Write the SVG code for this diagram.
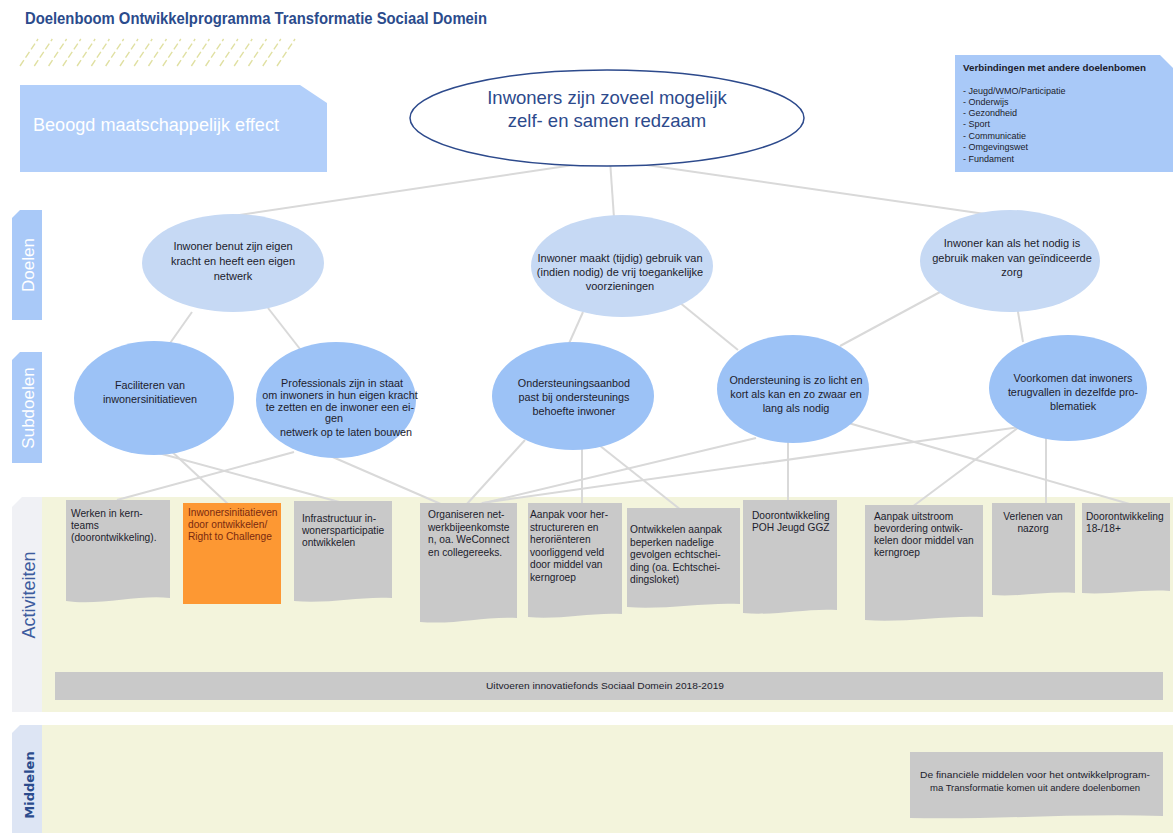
<svg xmlns="http://www.w3.org/2000/svg" width="1173" height="833" viewBox="0 0 1173 833">
<style>
.t{font-family:"Liberation Sans",Arial,sans-serif;fill:#1c1c2c}
.el{font-size:11px;text-anchor:middle}
.sl{font-size:10.8px;text-anchor:middle}
.at{font-size:10.2px}
.doel{fill:#c6d9f4}
.sub{fill:#9cc2f6}
.box{fill:#c9c9c9}
.con line{stroke:#d9d9d9;stroke-width:2}
.tab{font-family:"Liberation Sans",Arial,sans-serif;font-size:17px;fill:#fff;text-anchor:middle}
.hat line{stroke:#e0e0a2;stroke-width:1.4;stroke-dasharray:7 3}
.lst{font-family:"Liberation Sans",Arial,sans-serif;font-size:9px;fill:#1c1c2c}
</style>
<rect width="1173" height="833" fill="#fff"/>
<text x="25" y="24" font-family="Liberation Sans,Arial,sans-serif" font-size="16" font-weight="bold" fill="#2b4b8c" textLength="462" lengthAdjust="spacingAndGlyphs">Doelenboom Ontwikkelprogramma Transformatie Sociaal Domein</text>
<g class="hat">
<line x1="20" y1="66" x2="38" y2="39"/><line x1="34.3" y1="66" x2="52.3" y2="39"/><line x1="48.6" y1="66" x2="66.6" y2="39"/><line x1="62.8" y1="66" x2="80.8" y2="39"/><line x1="77.1" y1="66" x2="95.1" y2="39"/><line x1="91.4" y1="66" x2="109.4" y2="39"/><line x1="105.7" y1="66" x2="123.7" y2="39"/><line x1="120" y1="66" x2="138" y2="39"/><line x1="134.2" y1="66" x2="152.2" y2="39"/><line x1="148.5" y1="66" x2="166.5" y2="39"/><line x1="162.8" y1="66" x2="180.8" y2="39"/><line x1="177.1" y1="66" x2="195.1" y2="39"/><line x1="191.4" y1="66" x2="209.4" y2="39"/><line x1="205.6" y1="66" x2="223.6" y2="39"/><line x1="219.9" y1="66" x2="237.9" y2="39"/><line x1="234.2" y1="66" x2="252.2" y2="39"/><line x1="248.5" y1="66" x2="266.5" y2="39"/><line x1="262.8" y1="66" x2="280.8" y2="39"/><line x1="277" y1="66" x2="295" y2="39"/>
</g>
<g id="beoogd">
<path d="M20,85 H300 L327,103 V172 H20 Z" fill="#b2cffa"/>
<text x="33" y="131" font-family="Liberation Sans,Arial,sans-serif" font-size="18" fill="#fff" textLength="246" lengthAdjust="spacingAndGlyphs">Beoogd maatschappelijk effect</text>
</g>
<g id="verbindingen">
<path d="M955,55 H1160 L1173,68 V172 H955 Z" fill="#a9c9f8"/>
<text x="963" y="71" font-family="Liberation Sans,Arial,sans-serif" font-size="9.6" font-weight="bold" fill="#1c1c2c" textLength="183" lengthAdjust="spacingAndGlyphs">Verbindingen met andere doelenbomen</text>
<text class="lst" x="963" y="94">- Jeugd/WMO/Participatie</text>
<text class="lst" x="963" y="105">- Onderwijs</text>
<text class="lst" x="963" y="116">- Gezondheid</text>
<text class="lst" x="963" y="127">- Sport</text>
<text class="lst" x="963" y="138.5">- Communicatie</text>
<text class="lst" x="963" y="150">- Omgevingswet</text>
<text class="lst" x="963" y="161.5">- Fundament</text>
</g>
<g id="tab-doelen">
<path d="M20,210 H42 V320 H12 V218 Z" fill="#a9c9f8"/>
<text class="tab" transform="translate(34,265) rotate(-90)">Doelen</text>
</g>
<g id="tab-subdoelen">
<path d="M20,352 H42 V463 H12 V360 Z" fill="#a9c9f8"/>
<text class="tab" transform="translate(34,408) rotate(-90)">Subdoelen</text>
</g>
<rect x="42" y="497" width="1131" height="215" fill="#f3f4dc"/>
<rect x="42" y="725" width="1131" height="108" fill="#f3f4dc"/>
<g id="tab-activiteiten">
<path d="M22,497 H42 V712 H12 V507 Z" fill="#f0f1f5"/>
<text class="tab" style="fill:#3d5c9e;font-size:18px" transform="translate(35,595) rotate(-90)">Activiteiten</text>
</g>
<g id="tab-middelen">
<path d="M20,725 H42 V833 H12 V733 Z" fill="#dde5f4"/>
<text transform="translate(34,785) rotate(-90)" font-family="DejaVu Sans,Verdana,sans-serif" font-size="13" font-weight="bold" fill="#2b4b8c" text-anchor="middle">Middelen</text>
</g>
<g id="connectors" class="con">
<line x1="607" y1="160" x2="233" y2="216"/>
<line x1="610" y1="160" x2="614" y2="218"/>
<line x1="612" y1="160" x2="985" y2="214"/>
<line x1="192" y1="312" x2="168" y2="346"/>
<line x1="268" y1="308" x2="300" y2="349"/>
<line x1="583" y1="312" x2="567" y2="348"/>
<line x1="679" y1="302" x2="738" y2="350"/>
<line x1="940" y1="292" x2="840" y2="346"/>
<line x1="1017" y1="306" x2="1023" y2="342"/>
<line x1="294" y1="452" x2="117" y2="500"/>
<line x1="168" y1="448" x2="229" y2="505"/>
<line x1="140" y1="448" x2="343" y2="503"/>
<line x1="328" y1="455" x2="443" y2="505"/>
<line x1="525" y1="440" x2="466" y2="505"/>
<line x1="756" y1="438" x2="480" y2="504"/>
<line x1="1019" y1="427" x2="482" y2="503"/>
<line x1="582" y1="445" x2="582" y2="505"/>
<line x1="599" y1="445" x2="681" y2="510"/>
<line x1="788" y1="440" x2="788" y2="502"/>
<line x1="845" y1="422" x2="1133" y2="505"/>
<line x1="1019" y1="427" x2="912" y2="507"/>
<line x1="1046" y1="437" x2="1046" y2="505"/>
</g>
<g id="hoofddoel">
<ellipse cx="607" cy="118" rx="197" ry="48" fill="#fff" stroke="#2d4a8c" stroke-width="1.5"/>
<text x="607" y="104" font-family="Liberation Sans,Arial,sans-serif" font-size="18.5" fill="#2d4a8c" text-anchor="middle">Inwoners zijn zoveel mogelijk</text>
<text x="607" y="127" font-family="Liberation Sans,Arial,sans-serif" font-size="18.5" fill="#2d4a8c" text-anchor="middle">zelf- en samen redzaam</text>
</g>
<g id="doel1">
<ellipse class="doel" cx="233" cy="263" rx="91" ry="49"/>
<text class="t el" x="233" y="250">Inwoner benut zijn eigen</text>
<text class="t el" x="233" y="265">kracht en heeft een eigen</text>
<text class="t el" x="233" y="280">netwerk</text>
</g>
<g id="doel2">
<ellipse class="doel" cx="622" cy="266" rx="91" ry="51"/>
<text class="t el" x="620" y="262">Inwoner maakt (tijdig) gebruik van</text>
<text class="t el" x="620" y="276">(indien nodig) de vrij toegankelijke</text>
<text class="t el" x="620" y="290">voorzieningen</text>
</g>
<g id="doel3">
<ellipse class="doel" cx="1010" cy="261" rx="90" ry="51"/>
<text class="t el" x="1012" y="247">Inwoner kan als het nodig is</text>
<text class="t el" x="1012" y="261.5">gebruik maken van geïndiceerde</text>
<text class="t el" x="1012" y="276">zorg</text>
</g>
<g id="sub1">
<ellipse class="sub" cx="154" cy="398" rx="80" ry="57"/>
<text class="t sl" x="150" y="389">Faciliteren van</text>
<text class="t sl" x="150" y="403">inwonersinitiatieven</text>
</g>
<g id="sub2">
<ellipse class="sub" cx="336" cy="400" rx="80" ry="58"/>
<text class="t sl" x="342" y="387">Professionals zijn in staat</text>
<text class="t sl" x="340" y="399">om inwoners in hun eigen kracht</text>
<text class="t sl" x="340" y="411">te zetten en de inwoner een ei-</text>
<text class="t sl" x="334" y="422">gen</text>
<text class="t sl" x="346" y="436">netwerk op te laten bouwen</text>
</g>
<g id="sub3">
<ellipse class="sub" cx="573" cy="396" rx="81" ry="54"/>
<text class="t sl" x="574" y="387">Ondersteuningsaanbod</text>
<text class="t sl" x="574" y="401">past bij ondersteunings</text>
<text class="t sl" x="574" y="415">behoefte inwoner</text>
</g>
<g id="sub4">
<ellipse class="sub" cx="793" cy="389" rx="76" ry="54"/>
<text class="t sl" x="796" y="384">Ondersteuning is zo licht en</text>
<text class="t sl" x="796" y="398">kort als kan en zo zwaar en</text>
<text class="t sl" x="796" y="412">lang als nodig</text>
</g>
<g id="sub5">
<ellipse class="sub" cx="1068" cy="388" rx="79" ry="53"/>
<text class="t sl" x="1073" y="382">Voorkomen dat inwoners</text>
<text class="t sl" x="1073" y="396">terugvallen in dezelfde pro-</text>
<text class="t sl" x="1073" y="410">blematiek</text>
</g>
<g id="act1">
<path class="box" d="M66,500 H170 V598 C140,594 100,606 66,601 Z"/>
<text class="t at" x="71" y="517">Werken in kern-</text>
<text class="t at" x="71" y="529">teams</text>
<text class="t at" x="71" y="541">(doorontwikkeling).</text>
</g>
<g id="act2">
<rect x="183" y="503" width="98" height="101" fill="#fd9833"/>
<text class="t at" style="fill:#7a2a10" x="188" y="516">Inwonersinitiatieven</text>
<text class="t at" style="fill:#7a2a10" x="188" y="528">door ontwikkelen/</text>
<text class="t at" style="fill:#7a2a10" x="188" y="540">Right to Challenge</text>
</g>
<g id="act3">
<path class="box" d="M294,501 H392 V598 C360,596 330,604 294,601 Z"/>
<text class="t at" x="302" y="522">Infrastructuur in-</text>
<text class="t at" x="302" y="534">wonersparticipatie</text>
<text class="t at" x="302" y="546">ontwikkelen</text>
</g>
<g id="act4">
<path class="box" d="M420,503 H517 V618 C485,616 455,625 420,622 Z"/>
<text class="t at" x="428" y="518">Organiseren net-</text>
<text class="t at" x="428" y="530.5">werkbijeenkomste</text>
<text class="t at" x="428" y="543">n, oa. WeConnect</text>
<text class="t at" x="428" y="555.5">en collegereeks.</text>
</g>
<g id="act5">
<path class="box" d="M528,503 H622 V614 C592,612 560,620 528,617 Z"/>
<text class="t at" x="530" y="518">Aanpak voor her-</text>
<text class="t at" x="530" y="530.5">structureren en</text>
<text class="t at" x="530" y="543">heroriënteren</text>
<text class="t at" x="530" y="555.5">voorliggend veld</text>
<text class="t at" x="530" y="568">door middel van</text>
<text class="t at" x="530" y="580.5">kerngroep</text>
</g>
<g id="act6">
<path class="box" d="M627,508 H740 V604 C705,602 665,610 627,607 Z"/>
<text class="t at" x="630" y="533">Ontwikkelen aanpak</text>
<text class="t at" x="630" y="545.5">beperken nadelige</text>
<text class="t at" x="630" y="558">gevolgen echtschei-</text>
<text class="t at" x="630" y="570.5">ding (oa. Echtschei-</text>
<text class="t at" x="630" y="583">dingsloket)</text>
</g>
<g id="act7">
<path class="box" d="M743,500 H837 V610 C807,608 775,616 743,613 Z"/>
<text class="t at" x="752" y="519">Doorontwikkeling</text>
<text class="t at" x="752" y="531">POH Jeugd GGZ</text>
</g>
<g id="act8">
<path class="box" d="M865,505 H983 V617 C945,615 905,623 865,620 Z"/>
<text class="t at" x="874" y="520">Aanpak uitstroom</text>
<text class="t at" x="874" y="532">bevordering ontwik-</text>
<text class="t at" x="874" y="544">kelen door middel van</text>
<text class="t at" x="874" y="556">kerngroep</text>
</g>
<g id="act9">
<path class="box" d="M992,503 H1075 V593 C1048,591 1020,597 992,595 Z"/>
<text class="t at" x="1033" y="520" text-anchor="middle">Verlenen van</text>
<text class="t at" x="1033" y="532" text-anchor="middle">nazorg</text>
</g>
<g id="act10">
<path class="box" d="M1082,503 H1170 V591 C1140,589 1110,595 1082,593 Z"/>
<text class="t at" x="1086" y="520">Doorontwikkeling</text>
<text class="t at" x="1086" y="532">18-/18+</text>
</g>
<g id="act-fonds">
<rect class="box" x="55" y="672" width="1108" height="28"/>
<text class="t" x="605" y="689" font-size="9.5" text-anchor="middle" textLength="238" lengthAdjust="spacingAndGlyphs">Uitvoeren innovatiefonds Sociaal Domein 2018-2019</text>
</g>
<g id="middelen">
<path class="box" d="M910,752 H1163 V816 C1080,813 990,820 910,818 Z"/>
<text class="t" x="1035" y="778" font-size="9" text-anchor="middle" textLength="230" lengthAdjust="spacingAndGlyphs">De financiële middelen voor het ontwikkelprogram-</text>
<text class="t" x="1035" y="791" font-size="9" text-anchor="middle" textLength="210" lengthAdjust="spacingAndGlyphs">ma Transformatie komen uit andere doelenbomen</text>
</g>
</svg>
